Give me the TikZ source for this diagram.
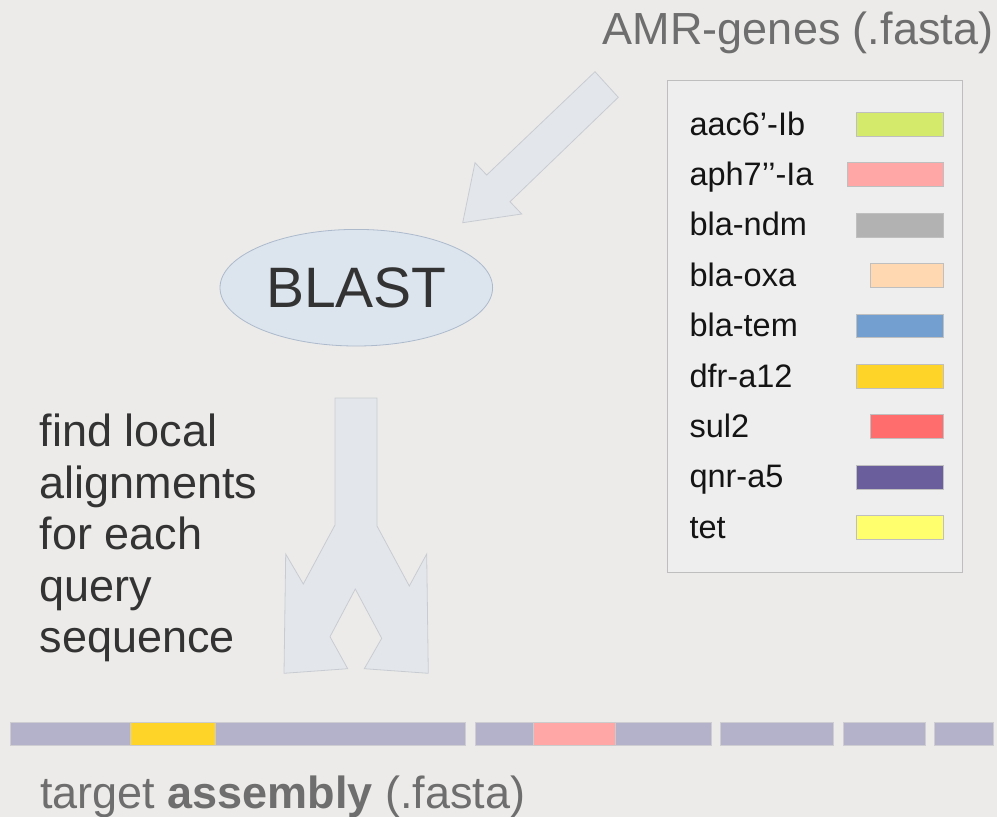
\documentclass[tikz,border=0pt]{standalone}
\usepackage{fontspec}
\setmainfont{Liberation Sans}
\usetikzlibrary{shapes.geometric}
\definecolor{bgc}{RGB}{236,235,233}
\definecolor{arrowfill}{RGB}{227,230,234}
\definecolor{arrowline}{RGB}{200,204,210}
\definecolor{ellfill}{RGB}{220,228,238}
\definecolor{ellline}{RGB}{172,186,204}
\definecolor{legfill}{RGB}{238,238,238}
\definecolor{legline}{RGB}{190,190,190}
\definecolor{darktext}{RGB}{51,51,51}
\definecolor{greytext}{RGB}{110,110,110}
\definecolor{segfill}{RGB}{180,177,203}
\definecolor{segline}{RGB}{205,205,210}
\definecolor{cA}{RGB}{212,234,107}
\definecolor{cB}{RGB}{255,166,166}
\definecolor{cC}{RGB}{178,178,178}
\definecolor{cD}{RGB}{255,216,178}
\definecolor{cE}{RGB}{114,159,207}
\definecolor{cF}{RGB}{255,212,40}
\definecolor{cG}{RGB}{255,109,109}
\definecolor{cH}{RGB}{106,94,156}
\definecolor{cI}{RGB}{255,255,109}
\begin{document}
\begin{tikzpicture}[x=1pt,y=-1pt,
  bigtext/.style={font=\fontsize{45}{54}\selectfont, inner sep=0pt},
  legtext/.style={font=\fontsize{32.5}{38}\selectfont, text=black!92, inner sep=0pt, anchor=base west},
  swatch/.style={draw=black!25, line width=0.6pt, minimum height=23.7pt, inner sep=0pt, anchor=east},
  blockarrow/.style={fill=arrowfill, draw=arrowline, line width=0.8pt, line join=miter},
  seg/.style={fill=segfill, draw=segline, line width=0.8pt},
  hit/.style={draw=black!20, line width=0.6pt}
]
\fill[bgc] (0,0) rectangle (997,817);
\useasboundingbox (0,0) rectangle (997,817);

% title
\node[bigtext, text=greytext, anchor=base east] (title) at (993.3,44.3) {AMR-genes (.fasta)};

% top block arrow
\draw[blockarrow] (595,71.7) -- (618.3,97.3) -- (510,201.7) -- (521.7,214) -- (462.7,222.7) -- (475,162.7) -- (486.7,175) -- cycle;

% BLAST ellipse
\node[ellipse, fill=ellfill, draw=ellline, line width=0.8pt, minimum width=272.6pt, minimum height=116.6pt, inner sep=0pt,
      font=\fontsize{57}{60}\selectfont, text=darktext] (blast) at (356.3,287.7) {BLAST};

% split arrow
\draw[blockarrow] (335,398) -- (377,398) -- (377,526) -- (409.3,586) -- (426.7,554) -- (428.3,673.3)
  -- (364.3,668.7) -- (381.7,638.3) -- (355.3,589) -- (330,636.7) -- (347.7,668.7) -- (284,673.3)
  -- (285.7,554) -- (303.3,584) -- (335,525) -- cycle;

% left description
\node[bigtext, text=darktext, anchor=base west] (d1) at (39.3,446.7) {find local};
\node[bigtext, text=darktext, anchor=base west] (d2) at (39.3,498.2) {alignments};
\node[bigtext, text=darktext, anchor=base west] (d3) at (39.3,549.7) {for each};
\node[bigtext, text=darktext, anchor=base west] (d4) at (39.3,601.2) {query};
\node[bigtext, text=darktext, anchor=base west] (d5) at (39.3,652.7) {sequence};

% legend
\node[draw=legline, fill=legfill, line width=0.8pt, minimum width=295pt, minimum height=492pt, inner sep=0pt, anchor=north west] (legend) at (666.7,79.7) {};
\foreach \i/\lab/\col/\lx in {0/aac6’-Ib/cA/857, 1/aph7’’-Ia/cB/847.7, 2/bla-ndm/cC/857, 3/bla-oxa/cD/870.3,
    4/bla-tem/cE/857, 5/dfr-a12/cF/857, 6/sul2/cG/870.3, 7/qnr-a5/cH/857, 8/tet/cI/857}{
  \pgfmathsetmacro{\by}{135+50.4*\i}
  \pgfmathsetmacro{\cy}{124.2+50.4*\i}
  \pgfmathsetmacro{\w}{943.7-\lx}
  \node[legtext] (lt\i) at (689.3,\by) {\lab};
  \node[swatch, fill=\col, minimum width=\w pt] (sw\i) at (943.7,\cy) {};
}

% target assembly bar
\draw[seg] (10,722) rectangle (465,745);
\draw[hit, fill=cF] (130,722) rectangle (215,745);
\draw[seg] (475,722) rectangle (711,745);
\draw[hit, fill=cB] (533,722) rectangle (615,745);
\draw[seg] (720,722) rectangle (833,745);
\draw[seg] (843,722) rectangle (925,745);
\draw[seg] (934,722) rectangle (993,745);

% bottom label
\node[bigtext, text=greytext, anchor=base west] (target) at (40,808.3) {target \textbf{assembly} (.fasta)};
\end{tikzpicture}
\end{document}
